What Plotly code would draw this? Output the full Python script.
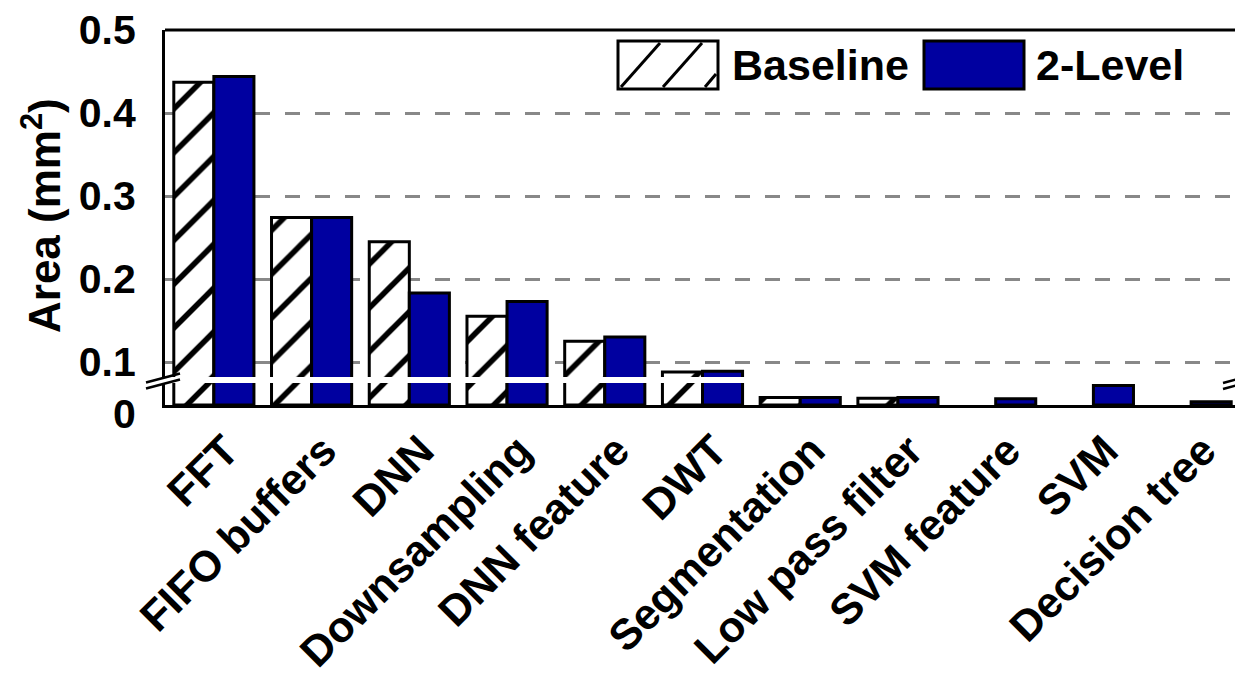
import plotly.graph_objects as go

categories = ["FFT", "FIFO buffers", "DNN", "Downsampling", "DNN feature", "DWT",
              "Segmentation", "Low pass filter", "SVM feature", "SVM", "Decision tree"]
baseline = [0.437, 0.274, 0.245, 0.155, 0.125, 0.088, 0.009, 0.008, None, None, None]
two_level = [0.444, 0.274, 0.183, 0.173, 0.130, 0.089, 0.009, 0.009, 0.0075, 0.0234, 0.004]
upper_ticks = [0.1, 0.2, 0.3, 0.4, 0.5]
lower_ticks = [0]
lower_ticktext = ["0"]

# page body margin offsets the figure by 8px
OFF = 8
W, H = 1243 - OFF, 673 - OFF
ML, MR, MT, MB = 165 - OFF, 3, 30 - OFF, 673 - 405
PW, PH = W - ML - MR, H - MT - MB

def px(x):
    return (x - OFF - ML) / PW

def py(y):
    return (H - MB - (y - OFF)) / PH

FONT = "Liberation Sans, Arial, sans-serif"
BLUE = "#0000A0"

lower_dom = [0, py(383)]
upper_dom = [py(377), 1]
scale = 830.0  # px per unit
upper_range = [0.5 - (377 - 30) / scale, 0.5]
lower_range = [0, (405 - 383) / scale]

fig = go.Figure()
for yax in ["y", "y2"]:
    fig.add_bar(x=categories, y=baseline, name="Baseline", xaxis="x", yaxis=yax,
                offsetgroup="b", showlegend=False,
                marker=dict(color="white",
                            pattern=dict(shape="/", fgcolor="black", bgcolor="white",
                                         fgopacity=1, size=31, solidity=0.18),
                            line=dict(color="black", width=3)))
    fig.add_bar(x=categories, y=two_level, name="2-Level", xaxis="x", yaxis=yax,
                offsetgroup="t", showlegend=False,
                marker=dict(color=BLUE, line=dict(color="black", width=3)))

frame = dict(color="black", width=3)
shapes = [
    # top and right frame of the broken plot area
    dict(type="line", xref="x domain", yref="y2 domain", x0=0, x1=1, y0=1, y1=1,
         layer="above", line=frame),
    dict(type="line", xref="x domain", yref="y2 domain", x0=1, x1=1, y0=0, y1=1,
         layer="above", line=frame),
    dict(type="line", xref="x domain", yref="y domain", x0=1, x1=1, y0=0, y1=1,
         layer="above", line=frame),
]
for (x0, y0, x1, y1) in [(146, 382.5, 180, 373.5), (146, 388.5, 180, 379.5),
                         (1223, 383, 1243, 377.5), (1223, 389, 1243, 383.5)]:
    shapes.append(dict(type="line", xref="paper", yref="paper",
                       x0=px(x0), y0=py(y0), x1=px(x1), y1=py(y1),
                       line=dict(color="black", width=2.5)))

# legend
shapes.append(dict(type="rect", xref="paper", yref="paper",
                   x0=px(618), x1=px(718), y0=py(89), y1=py(41),
                   fillcolor="white", line=dict(color="black", width=3)))
for (x0, y0, x1, y1) in [(621, 87, 660, 43), (663, 87, 702, 43), (705, 87, 716, 74)]:
    shapes.append(dict(type="line", xref="paper", yref="paper",
                       x0=px(x0), y0=py(y0), x1=px(x1), y1=py(y1),
                       line=dict(color="black", width=3)))
shapes.append(dict(type="rect", xref="paper", yref="paper",
                   x0=px(924), x1=px(1024), y0=py(89), y1=py(41),
                   fillcolor=BLUE, line=dict(color="black", width=3)))

annotations = [
    dict(text="Baseline", xref="paper", yref="paper", x=px(730), y=py(65),
         xanchor="left", yanchor="middle", showarrow=False,
         font=dict(family=FONT, size=43, color="black", weight="bold")),
    dict(text="2-Level", xref="paper", yref="paper", x=px(1034), y=py(65),
         xanchor="left", yanchor="middle", showarrow=False,
         font=dict(family=FONT, size=43, color="black", weight="bold")),
    dict(text="Area (mm<sup>2</sup>)", xref="paper", yref="paper", x=px(41), y=py(216),
         xanchor="center", yanchor="middle", textangle=-90, showarrow=False,
         font=dict(family=FONT, size=44, color="black", weight="bold")),
]

ytickfont = dict(family=FONT, size=41, color="black", weight="bold")
xtickfont = dict(family=FONT, size=43, color="black", weight="bold")

fig.update_layout(
    width=W, height=H,
    margin=dict(l=ML, r=MR, t=MT, b=MB, autoexpand=False),
    paper_bgcolor="white", plot_bgcolor="white",
    font=dict(family=FONT, color="black", weight="bold"),
    barmode="group", bargap=0.18, bargroupgap=0,
    showlegend=False,
    shapes=shapes, annotations=annotations,
    xaxis=dict(anchor="y", showline=True, linecolor="black", linewidth=3,
               ticks="", tickangle=-45, tickfont=xtickfont, showgrid=False,
               ticklabelshift=12, ticklabeloverflow="allow", automargin=False),
    yaxis=dict(domain=lower_dom, range=lower_range, tickvals=lower_ticks,
               ticktext=lower_ticktext, showline=True,
               linecolor="black", linewidth=3, showgrid=False, zeroline=False,
               ticks="", tickfont=ytickfont, ticklabelstandoff=18,
               ticklabelshift=9, ticklabeloverflow="allow", automargin=False),
    yaxis2=dict(domain=upper_dom, range=upper_range, anchor="x",
                tickvals=upper_ticks, showline=True,
                linecolor="black", linewidth=3, showgrid=True,
                gridcolor="#888888", gridwidth=3, griddash="15px,15px",
                zeroline=False, ticks="", tickfont=ytickfont,
                ticklabelstandoff=18, ticklabeloverflow="allow", automargin=False),
)

fig.write_html("out.html")
